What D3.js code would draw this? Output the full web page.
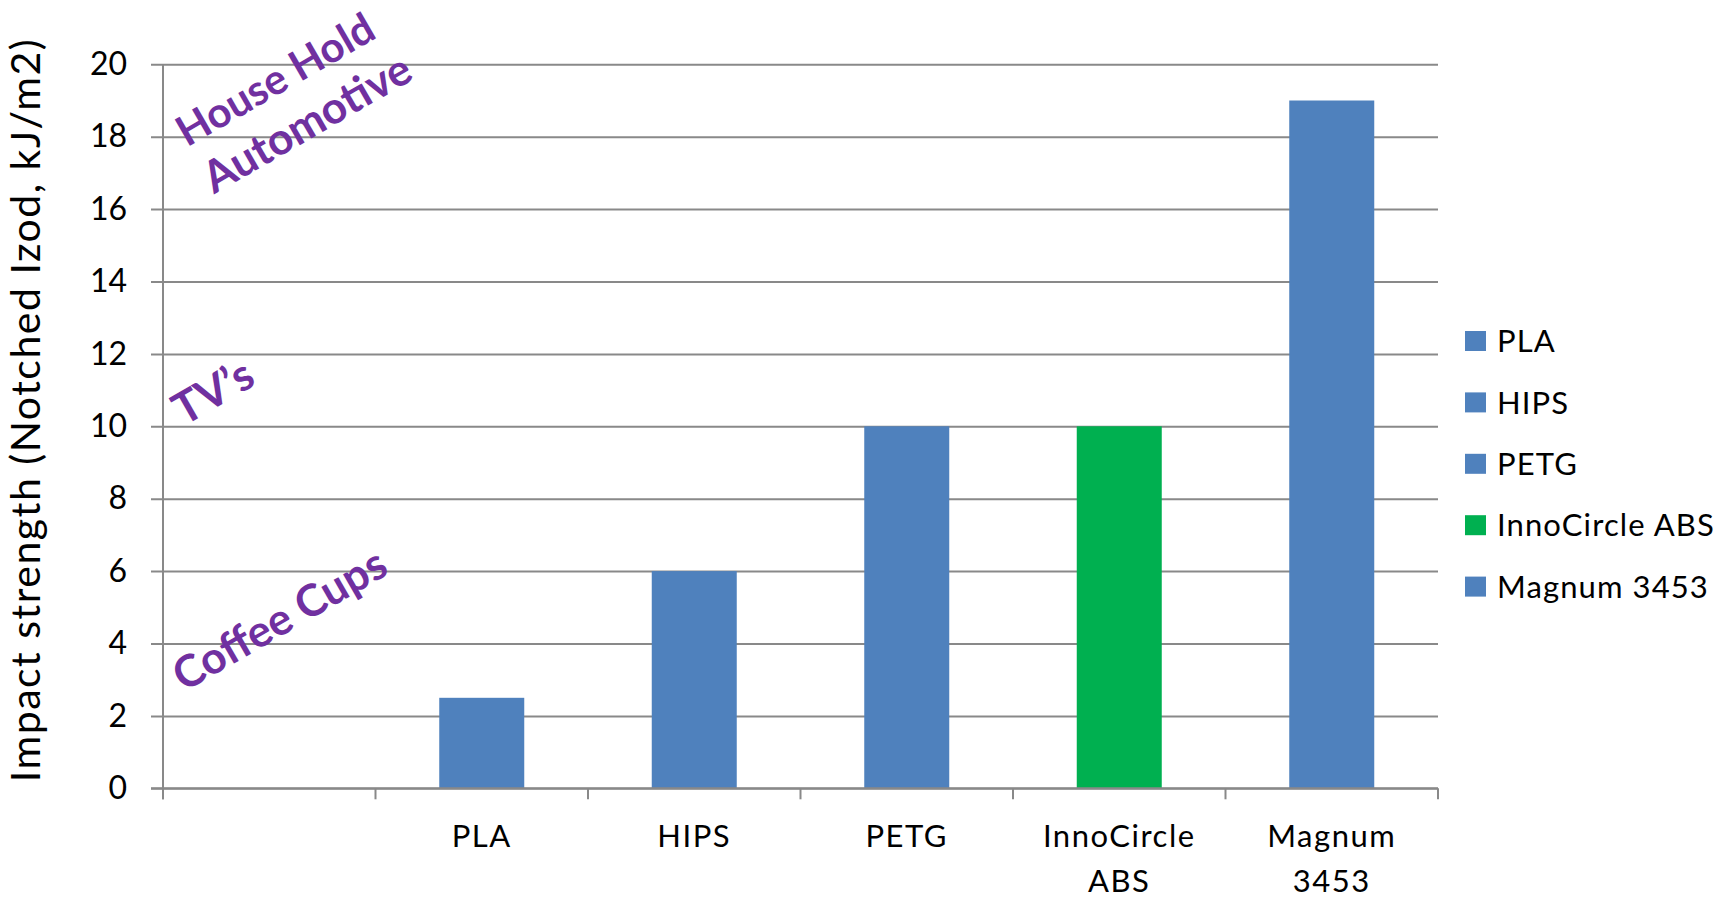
<!DOCTYPE html>
<html>
<head>
<meta charset="utf-8">
<script src="https://cdn.jsdelivr.net/npm/d3@7"></script>
<style>
  html, body { margin: 0; padding: 0; background: #ffffff; }
  svg { display: block; }
</style>
</head>
<body>
<svg id="chart" width="1719" height="901"></svg>
<script>
// ---- data ----
const categories = ["", "PLA", "HIPS", "PETG", "InnoCircle ABS", "Magnum 3453"];
const categoryLabelLines = [[], ["PLA"], ["HIPS"], ["PETG"], ["InnoCircle", "ABS"], ["Magnum", "3453"]];
const values = [null, 2.5, 6, 10, 10, 19];
const barColors = [null, "#4F81BD", "#4F81BD", "#4F81BD", "#00B050", "#4F81BD"];
const legendLabels = ["PLA", "HIPS", "PETG", "InnoCircle ABS", "Magnum 3453"];
const legendColors = ["#4F81BD", "#4F81BD", "#4F81BD", "#00B050", "#4F81BD"];
const yTicks = [0, 2, 4, 6, 8, 10, 12, 14, 16, 18, 20];
const yTitle = "Impact strength (Notched Izod, kJ/m2)";
const annotationTexts = ["House Hold", "Automotive", "TV\u2019s", "Coffee Cups"];
const annotationLevels = [17.7, 16.4, 10.0, 2.65];    // value on the y axis where each baseline starts
const annotationOffsets = [24, 51, 21, 21];            // px to the right of the value axis

// ---- layout ----
const svg = d3.select("#chart");
const plot = { left: 163, right: 1438, top: 64.3, bottom: 788.3 };
const gridColor = "#898989";
const font = "Lato, 'Open Sans', sans-serif";

const x = d3.scaleBand().domain(categories).range([plot.left, plot.right]).padding(0);
const y = d3.scaleLinear().domain([0, 20]).range([plot.bottom, plot.top]);

// gridlines + y tick labels
const yAxis = d3.axisLeft(y).tickValues(yTicks).tickSize(plot.right - (plot.left - 12)).tickPadding(24).tickFormat(d3.format("d"));
const gy = svg.append("g").attr("transform", `translate(${plot.right},0)`).call(yAxis);
gy.select(".domain").remove();
gy.selectAll(".tick line").attr("stroke", gridColor).attr("stroke-width", 2);
gy.selectAll(".tick text").attr("font-family", font).attr("font-size", 32).attr("fill", "#000");

// bars
const bw = x.bandwidth();
svg.append("g").selectAll("rect")
  .data(categories.map((c, i) => ({ c, v: values[i], col: barColors[i] })).filter(d => d.v != null))
  .join("rect")
  .attr("x", d => x(d.c) + bw * 0.3)
  .attr("width", bw * 0.4)
  .attr("y", d => y(d.v))
  .attr("height", d => y(0) - y(d.v))
  .attr("fill", d => d.col);

// value axis line
svg.append("line").attr("x1", plot.left).attr("x2", plot.left)
  .attr("y1", plot.top).attr("y2", plot.bottom + 11)
  .attr("stroke", gridColor).attr("stroke-width", 2);

// category axis: line and boundary ticks
svg.append("line").attr("x1", plot.left - 12).attr("x2", plot.right)
  .attr("y1", y(0)).attr("y2", y(0)).attr("stroke", gridColor).attr("stroke-width", 2);
const boundaries = categories.map(c => x(c)).concat([x.range()[1]]);
svg.append("g").selectAll("line").data(boundaries).join("line")
  .attr("x1", d => d).attr("x2", d => d)
  .attr("y1", y(0)).attr("y2", y(0) + 11)
  .attr("stroke", gridColor).attr("stroke-width", 2);

// category labels
const labG = svg.append("g").attr("font-family", font).attr("font-size", 31)
  .attr("letter-spacing", "1.5px").attr("fill", "#000").attr("text-anchor", "middle");
categories.forEach((c, i) => {
  const t = labG.append("text").attr("x", x(c) + bw / 2).attr("y", 847);
  categoryLabelLines[i].forEach((ln, j) => {
    t.append("tspan").attr("x", x(c) + bw / 2).attr("dy", j === 0 ? 0 : 45).text(ln);
  });
});

// y title
svg.append("text")
  .attr("transform", `translate(40,${(782 + 38) / 2}) rotate(-90)`)
  .attr("text-anchor", "middle")
  .attr("font-family", font).attr("font-size", 41).attr("letter-spacing", "1.5px").attr("fill", "#000")
  .text(yTitle);

// legend
const lg = svg.append("g").attr("font-family", font).attr("font-size", 31).attr("letter-spacing", "1.1px");
legendLabels.forEach((lab, i) => {
  const cy = 341 + i * 61.4;
  lg.append("rect").attr("x", 1465).attr("y", cy - 10).attr("width", 21).attr("height", 20).attr("fill", legendColors[i]);
  lg.append("text").attr("x", 1497).attr("y", cy).attr("dy", "0.36em").attr("fill", "#000").text(lab);
});

// purple annotations
annotationTexts.forEach((t, i) => {
  svg.append("text")
    .attr("transform", `translate(${plot.left + annotationOffsets[i]},${y(annotationLevels[i])}) rotate(-30)`)
    .attr("font-family", font).attr("font-weight", 700).attr("font-size", i === 0 ? 42 : 44)
    .attr("fill", "#7030A0")
    .text(t);
});
</script>
</body>
</html>
